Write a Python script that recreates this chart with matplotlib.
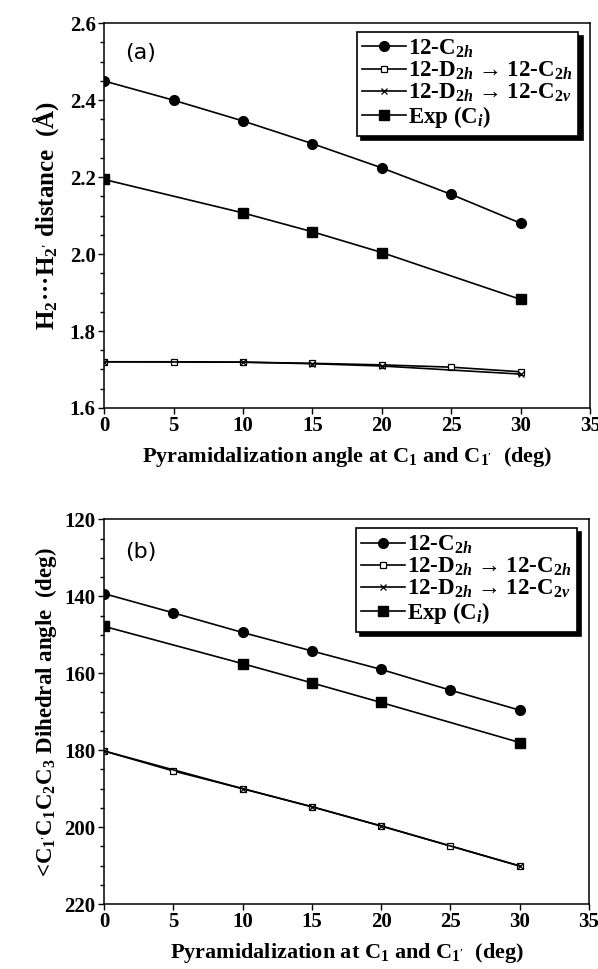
import matplotlib
matplotlib.use("Agg")
import matplotlib.pyplot as plt
from matplotlib.ticker import MultipleLocator

plt.rcParams['font.family'] = ['Liberation Serif', 'DejaVu Serif']
plt.rcParams['font.weight'] = 'bold'
plt.rcParams['mathtext.fontset'] = 'custom'
plt.rcParams['mathtext.rm'] = 'Liberation Serif:bold'
plt.rcParams['mathtext.it'] = 'Liberation Serif:italic:bold'
plt.rcParams['mathtext.bf'] = 'Liberation Serif:bold'

# ---- data panel (a) ----
x_all = [0, 5, 10, 15, 20, 25, 30]
x_exp = [0, 10, 15, 20, 30]
a_c2h = [2.450, 2.400, 2.346, 2.287, 2.224, 2.155, 2.080]
a_d2h_c2h = [1.720, 1.720, 1.719, 1.716, 1.712, 1.706, 1.694]
a_d2h_c2v = [1.720, 1.719, 1.715, 1.709, 1.688]
a_exp = [2.194, 2.107, 2.058, 2.004, 1.882]

# ---- data panel (b) ----
b_c2h = [139.3, 144.3, 149.4, 154.2, 159.0, 164.4, 169.6]
b_d2h_c2h = [180.2, 185.4, 190.0, 194.7, 199.7, 204.9, 210.1]
b_d2h_c2v = [180.2, 190.0, 194.7, 199.7, 210.1]
b_exp = [147.8, 157.5, 162.5, 167.6, 178.0]

labels = ['12-C$_{2h}$', '12-D$_{2h}$ → 12-C$_{2h}$',
          '12-D$_{2h}$ → 12-C$_{2v}$', 'Exp (C$_{i}$)']

fig = plt.figure(figsize=(5.98, 9.69), dpi=100)
ax1 = fig.add_axes([0.174, 0.579, 0.813, 0.397])
ax2 = fig.add_axes([0.174, 0.067, 0.811, 0.397])

def draw(ax, c2h, d2h_c2h, d2h_c2v, exp):
    ax.plot(x_all, c2h, '-', color='black', lw=1.2, marker='o', ms=7,
            mfc='black', mec='black', label=labels[0])
    ax.plot(x_all, d2h_c2h, '-', color='black', lw=1.2, marker='s', ms=5,
            mfc='white', mec='black', mew=0.9, label=labels[1])
    ax.plot(x_exp, d2h_c2v, '-', color='black', lw=1.2, marker='x', ms=5,
            mec='black', mew=0.9, label=labels[2])
    ax.plot(x_exp, exp, '-', color='black', lw=1.2, marker='s', ms=7,
            mfc='black', mec='black', label=labels[3])
    ax.set_xlim(0, 35)
    ax.xaxis.set_major_locator(MultipleLocator(5))
    ax.tick_params(axis='both', which='both', direction='out', labelsize=15,
                   width=1.0)
    ax.tick_params(axis='both', which='major', length=4, pad=2)
    ax.tick_params(axis='y', which='minor', length=3)
    for s in ax.spines.values():
        s.set_linewidth(1.1)
    leg = ax.legend(loc='upper right', bbox_to_anchor=(0.985, 0.99),
                    fontsize=16.5, frameon=True, fancybox=False,
                    edgecolor='black', framealpha=1,
                    shadow={'color': 'black', 'alpha': 1, 'ox': 3, 'oy': -3},
                    handlelength=1.9, handletextpad=0.1, labelspacing=0.0,
                    borderpad=0.25, borderaxespad=0.2)
    leg.get_frame().set_linewidth(1.2)
    for lbl in ax.get_xticklabels() + ax.get_yticklabels():
        lbl.set_fontweight('bold')

draw(ax1, a_c2h, a_d2h_c2h, a_d2h_c2v, a_exp)
ax1.set_ylim(1.6, 2.6)
ax1.yaxis.set_major_locator(MultipleLocator(0.2))
ax1.yaxis.set_minor_locator(MultipleLocator(0.05))
ax1.yaxis.set_major_formatter(matplotlib.ticker.FormatStrFormatter('%.1f'))
ax1.set_xlabel("Pyramidalization angle at C$_1$ and C$_{1'}$  (deg)",
               fontsize=16, fontweight='bold', labelpad=6)
ax1.set_ylabel("H$_2$···H$_{2'}$ distance  (Å)", fontsize=18,
               fontweight='bold', labelpad=6)
ax1.text(1.5, 2.522, '(a)', family='DejaVu Sans', fontsize=16,
         fontweight='normal', va='center', ha='left')

draw(ax2, b_c2h, b_d2h_c2h, b_d2h_c2v, b_exp)
ax2.set_ylim(220, 120)
ax2.yaxis.set_major_locator(MultipleLocator(20))
ax2.yaxis.set_minor_locator(MultipleLocator(5))
ax2.set_xlabel("Pyramidalization at C$_1$ and C$_{1'}$  (deg)",
               fontsize=16, fontweight='bold', labelpad=6)
ax2.set_ylabel("<C$_{1'}$C$_1$C$_2$C$_3$ Dihedral angle  (deg)", fontsize=16.5,
               fontweight='bold', labelpad=4)
ax2.text(1.5, 128.5, '(b)', family='DejaVu Sans', fontsize=16,
         fontweight='normal', va='center', ha='left')

fig.savefig('out.png', dpi=100)
